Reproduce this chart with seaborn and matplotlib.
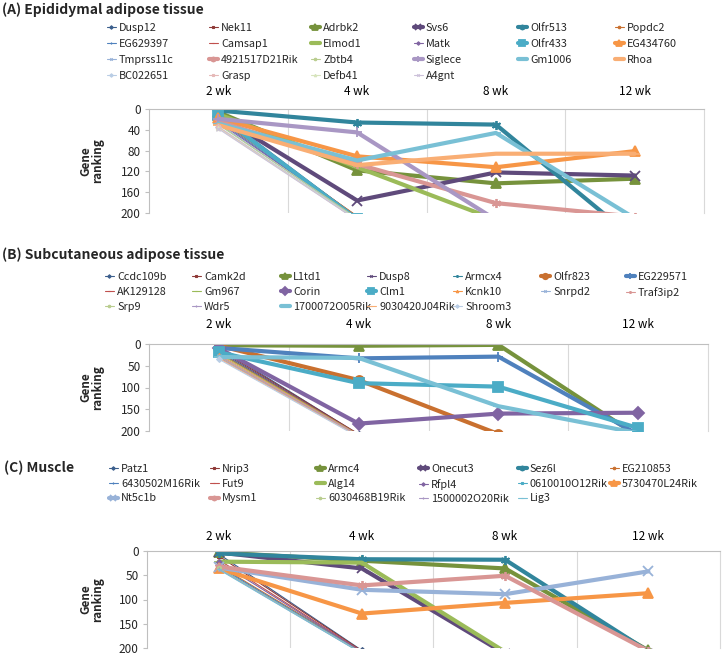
import numpy as np
import matplotlib
matplotlib.use("Agg")
import matplotlib.pyplot as plt
import seaborn as sns

NA = np.nan
weeks = ["2 wk", "4 wk", "8 wk", "12 wk"]

# ---------------- Panel A: Epididymal adipose tissue ----------------
genes_a = ["Dusp12", "Nek11", "Adrbk2", "Svs6", "Olfr513", "Popdc2",
           "EG629397", "Camsap1", "Elmod1", "Matk", "Olfr433", "EG434760",
           "Tmprss11c", "4921517D21Rik", "Zbtb4", "Siglece", "Gm1006", "Rhoa",
           "BC022651", "Grasp", "Defb41", "A4gnt"]
ranks_a = [[8, 209, NA, NA], [14, 207, NA, NA], [6, 118, 143, 134], [12, 176, 122, 128],
           [3, 26, 30, 250], [20, 206, NA, NA],
           [22, 210, NA, NA], [17, 208, NA, NA], [10, 112, 213, NA], [25, 209, NA, NA],
           [12, 212, NA, NA], [18, 91, 112, 81],
           [28, 211, NA, NA], [24, 106, 181, 207], [30, 210, NA, NA], [19, 45, 213, NA],
           [28, 99, 46, 210], [31, 108, 86, 86],
           [34, 212, NA, NA], [35, 214, NA, NA], [37, 213, NA, NA], [38, 214, NA, NA]]
thick_a = ["Adrbk2", "Svs6", "Olfr513", "Elmod1", "Olfr433", "EG434760",
           "4921517D21Rik", "Siglece", "Gm1006", "Rhoa"]
yticks_a = [0, 40, 80, 120, 160, 200]

# ---------------- Panel B: Subcutaneous adipose tissue ----------------
genes_b = ["Ccdc109b", "Camk2d", "L1td1", "Dusp8", "Armcx4", "Olfr823", "EG229571",
           "AK129128", "Gm967", "Corin", "Clm1", "Kcnk10", "Snrpd2", "Traf3ip2",
           "Srp9", "Wdr5", "1700072O05Rik", "9030420J04Rik", "Shroom3"]
ranks_b = [[8, 208, NA, NA], [12, 207, NA, NA], [3, 4, 2, 212], [15, 209, NA, NA],
           [18, 210, NA, NA], [4, 83, 207, NA], [9, 33, 29, 208],
           [20, 208, NA, NA], [22, 209, NA, NA], [10, 183, 160, 158], [19, 90, 98, 193],
           [25, 210, NA, NA], [27, 211, NA, NA], [28, 210, NA, NA],
           [30, 212, NA, NA], [31, 211, NA, NA], [30, 32, 143, 205], [33, 213, NA, NA],
           [35, 214, NA, NA]]
thick_b = ["L1td1", "Olfr823", "EG229571", "Corin", "Clm1", "1700072O05Rik"]
yticks_b = [0, 50, 100, 150, 200]

# ---------------- Panel C: Muscle ----------------
genes_c = ["Patz1", "Nrip3", "Armc4", "Onecut3", "Sez6l", "EG210853",
           "6430502M16Rik", "Fut9", "Alg14", "Rfpl4", "0610010O12Rik", "5730470L24Rik",
           "Nt5c1b", "Mysm1", "6030468B19Rik", "1500002O20Rik", "Lig3"]
ranks_c = [[6, 205, NA, NA], [10, 206, NA, NA], [3, 20, 36, 205], [3, 36, 212, NA],
           [5, 17, 18, 207], [30, 207, NA, NA],
           [32, 209, NA, NA], [18, 207, NA, NA], [22, 24, 208, NA], [22, 208, NA, NA],
           [35, 210, NA, NA], [36, 129, 107, 87],
           [34, 80, 89, 42], [32, 71, 51, 206], [36, 210, NA, NA], [37, 211, NA, NA],
           [38, 211, NA, NA]]
thick_c = ["Armc4", "Onecut3", "Sez6l", "Alg14", "5730470L24Rik", "Nt5c1b", "Mysm1"]
yticks_c = [0, 50, 100, 150, 200]

# Excel-like series palette
pal_dark = ["#3B5E8C", "#8F3A38", "#76923C", "#5F4A7B", "#31859C", "#C9702F"]
pal_base = ["#4F81BD", "#C0504D", "#9BBB59", "#8064A2", "#4BACC6", "#F79646"]
pal_light = ["#98B2D8", "#D99694", "#B9CD8F", "#A997C4", "#79C0D5", "#F9AE74"]
pal_lighter = ["#B9CDE5", "#E6B9B8", "#D7E4BD", "#CCC1DA", "#B7DEE8", "#FCD5B5"]
palettes = [pal_dark, pal_base, pal_light, pal_lighter]
marker_cycle = ["D", "s", "^", "x", (6, 2, 0), "o", "+", "_", "_"]

sns.set_theme(style="white")
plt.rcParams["font.family"] = ["Noto Sans CJK KR", "DejaVu Sans"]

W, H = 724, 656
fig = plt.figure(figsize=(W / 100, H / 100), dpi=100)


def fx(px):
    return px / W


def fy(py):
    return 1 - py / H


def draw_panel(rect_px, genes, ranks, thick, yticks, tick_pad):
    l, t, r, b = rect_px
    ax = fig.add_axes([fx(l), fy(b), fx(r - l), fy(t) - fy(b)])
    handles = []
    xs = np.arange(len(weeks))
    for i, (g, vals) in enumerate(zip(genes, ranks)):
        col = palettes[(i // 6) % 4][i % 6]
        mk = marker_cycle[i % 9]
        v = np.array(vals, dtype=float)
        ok = ~np.isnan(v)
        if g in thick:
            lw, ms, mew = 3.0, 6.5, 1.3
        else:
            lw, ms, mew = 0.8, 3.0, 0.8
        n0 = len(ax.lines)
        sns.lineplot(x=xs[ok], y=v[ok], ax=ax, color=col, linewidth=lw,
                     marker=mk, markersize=ms, markeredgecolor=col,
                     markerfacecolor=col, markeredgewidth=mew, label=g,
                     legend=False, errorbar=None, sort=False)
        handles.append(ax.lines[n0])
    ax.set_xlim(-0.5, 3.5)
    ax.set_ylim(200, 0)
    ax.set_yticks(yticks)
    ax.set_xticks(xs)
    ax.set_xticklabels(weeks)
    ax.set_xticks([0.5, 1.5, 2.5], minor=True)
    ax.xaxis.tick_top()
    ax.tick_params(axis="x", which="both", length=0, pad=tick_pad, labelsize=8.5,
                   colors="#000000")
    ax.tick_params(axis="y", which="major", left=True, length=3, width=0.8,
                   color="#BFBFBF", pad=3, labelsize=8.5)
    ax.grid(False)
    ax.grid(axis="x", which="minor", color="#D9D9D9", linewidth=0.8)
    for s in ["top", "left"]:
        ax.spines[s].set_color("#BFBFBF")
        ax.spines[s].set_linewidth(0.8)
    ax.spines["right"].set_color("#D9D9D9")
    ax.spines["right"].set_linewidth(0.8)
    ax.spines["bottom"].set_visible(False)
    ax.set_xlabel("")
    ax.set_ylabel("Gene\nranking", fontsize=8.5, fontweight="bold", linespacing=0.9)
    ax.yaxis.set_label_coords((104 - l) / (r - l), 0.5)
    return ax, handles


def draw_legend(genes, handles, ncol, text_x_px, top_px, spacing):
    n = len(genes)
    fsz = 7.8
    fs_px = fsz * 100 / 72
    hlen, hpad = 0.9, 0.25
    off = (hlen + hpad) * fs_px
    for c in range(ncol):
        idx = list(range(c, n, ncol))
        hl = [handles[k] for k in idx]
        lb = [genes[k] for k in idx]
        fig.legend(hl, lb, loc="upper left",
                   bbox_to_anchor=(fx(text_x_px[c] - off), fy(top_px)),
                   frameon=False, fontsize=fsz, handlelength=hlen, handletextpad=hpad,
                   labelspacing=spacing, borderpad=0, borderaxespad=0, numpoints=1,
                   markerscale=0.6)


# Panel A
ax_a, h_a = draw_panel((149, 109, 704, 213), genes_a, ranks_a, thick_a, yticks_a, 8)
fig.text(fx(2), fy(10), "(A) Epididymal adipose tissue", fontsize=10,
         fontweight="bold", va="center", ha="left")
draw_legend(genes_a, h_a, 6, [119, 221, 323, 426, 530, 627], 23, 0.56)

# Panel B
ax_b, h_b = draw_panel((149, 344, 708, 431), genes_b, ranks_b, thick_b, yticks_b, 9.5)
fig.text(fx(2), fy(255), "(B) Subcutaneous adipose tissue", fontsize=10,
         fontweight="bold", va="center", ha="left")
draw_legend(genes_b, h_b, 7, [117, 204, 293, 379, 465, 553, 638], 272, 0.47)

# Panel C
ax_c, h_c = draw_panel((147, 551, 720, 648), genes_c, ranks_c, thick_c, yticks_c, 6)
fig.text(fx(4), fy(468), "(C) Muscle", fontsize=10,
         fontweight="bold", va="center", ha="left")
draw_legend(genes_c, h_c, 6, [121, 222, 328, 431, 530, 622], 464, 0.43)

fig.savefig("out.png", dpi=100)
